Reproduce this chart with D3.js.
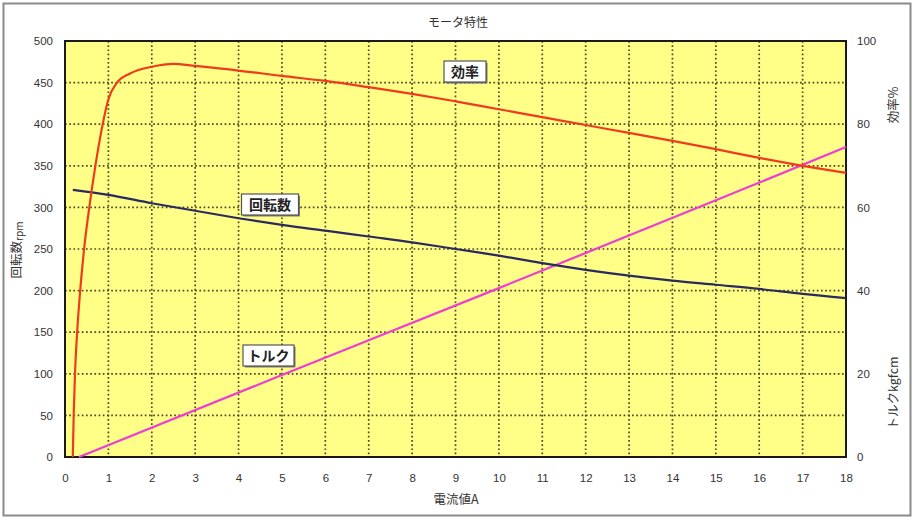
<!DOCTYPE html>
<html>
<head>
<meta charset="utf-8">
<script src="https://cdn.jsdelivr.net/npm/d3@7"></script>
<style>
  html, body { margin: 0; padding: 0; background: #ffffff; }
  svg { display: block; }
  text { font-family: "Liberation Sans", Arial, "Noto Sans CJK JP", sans-serif; }
  .jp { font-family: "Noto Sans CJK JP", "Noto Sans", sans-serif; }
</style>
</head>
<body>
<svg id="chart" width="916" height="521"></svg>
<script>
// ---- data ----
const title = "モータ特性";
const xTitle = "電流値A";
const xTicks = [0,1,2,3,4,5,6,7,8,9,10,11,12,13,14,15,16,17,18];
const leftTicks = [0,50,100,150,200,250,300,350,400,450,500];
const rightTicks = [0,20,40,60,80,100];

// efficiency (%), right axis
const effCurrent = [0.18,0.2,0.23,0.28,0.35,0.44,0.56,0.7,0.85,1.0,1.2,1.5,2,2.5,3,4,5,6,7,8,9,10,11,12,13,14,15,16,17,18];
const effValue   = [0,   10, 20,  30,  40,  50,  60,  70, 79,  86, 90, 92.2,93.8,94.5,94,92.9,91.6,90.4,88.9,87.3,85.5,83.6,81.7,79.8,77.9,76,74,71.9,70,68.3];

// rotation speed (rpm), left axis
const rpmCurrent = [0.18,1,2,3,4,5,6,7,8,9,10,11,12,13,14,15,16,17,18];
const rpmValue   = [321,315,305,296,287,279,272,265,258,250,242,233,225,218,212,207,202,196,191];

// torque (kgfcm), right axis
const torqueCurrent = [0.32,5,10,15,18];
const torqueValue   = [0,19.7,40.6,61.7,74.5];

// ---- layout ----
const svg = d3.select("#chart");
const L = 65, R = 846, T = 41, B = 457;

const x = d3.scaleLinear().domain([0,18]).range([L,R]);
const yL = d3.scaleLinear().domain([0,500]).range([B,T]);
const yR = d3.scaleLinear().domain([0,100]).range([B,T]);

// outer frame
svg.append("rect").attr("x",3.5).attr("y",3.5).attr("width",907).attr("height",512)
  .attr("fill","#fff").attr("stroke","#8a8a8a").attr("stroke-width",2);

// plot background
svg.append("rect").attr("x",L).attr("y",T).attr("width",R-L).attr("height",B-T)
  .attr("fill","#ffff88");

// grid
const gridColor = "#4a4a22";
svg.append("g").selectAll("line").data(xTicks.slice(1,-1)).join("line")
  .attr("x1",d=>x(d)).attr("x2",d=>x(d)).attr("y1",T).attr("y2",B)
  .attr("stroke",gridColor).attr("stroke-width",1.7).attr("stroke-dasharray","1.7,2.5");
svg.append("g").selectAll("line").data(leftTicks.slice(1,-1)).join("line")
  .attr("y1",d=>yL(d)).attr("y2",d=>yL(d)).attr("x1",L).attr("x2",R)
  .attr("stroke",gridColor).attr("stroke-width",1.7).attr("stroke-dasharray","1.7,2.5");

// plot border
svg.append("rect").attr("x",L).attr("y",T).attr("width",R-L).attr("height",B-T)
  .attr("fill","none").attr("stroke","#1a1a1a").attr("stroke-width",2);

// axes (labels only)
const axFont = g => {
  g.select(".domain").remove();
  g.selectAll(".tick line").remove();
  g.selectAll("text").attr("fill","#333").attr("font-size",11.5)
    .attr("font-family","'Liberation Sans', Arial, sans-serif");
};
svg.append("g").attr("transform",`translate(0,${B})`)
  .call(d3.axisBottom(x).tickValues(xTicks).tickFormat(d3.format("d")).tickSize(0).tickPadding(17))
  .call(axFont);
svg.append("g").attr("transform",`translate(${L},0)`)
  .call(d3.axisLeft(yL).tickValues(leftTicks).tickFormat(d3.format("d")).tickSize(0).tickPadding(12))
  .call(axFont);
svg.append("g").attr("transform",`translate(${R},0)`)
  .call(d3.axisRight(yR).tickValues(rightTicks).tickFormat(d3.format("d")).tickSize(0).tickPadding(11))
  .call(axFont);

// lines
const lineFrom = (xs, ys, yScale) => d3.line()
  .x((d,i)=>x(xs[i])).y((d,i)=>yScale(ys[i])).curve(d3.curveMonotoneX)(xs);

svg.append("path").attr("d",lineFrom(torqueCurrent,torqueValue,yR))
  .attr("fill","none").attr("stroke","#f03cd2").attr("stroke-width",2.2);
svg.append("path").attr("d",lineFrom(rpmCurrent,rpmValue,yL))
  .attr("fill","none").attr("stroke","#2a2a5e").attr("stroke-width",2.2);
svg.append("path").attr("d",lineFrom(effCurrent,effValue,yR))
  .attr("fill","none").attr("stroke","#f03a1e").attr("stroke-width",2.2);

// title
svg.append("text").attr("class","jp").attr("x",458).attr("y",27).attr("text-anchor","middle")
  .attr("font-size",12).attr("fill","#333").text(title);
// x title
svg.append("text").attr("class","jp").attr("x",456).attr("y",504).attr("text-anchor","middle")
  .attr("font-size",12.5).attr("fill","#333").text(xTitle);

// left y title
const lt = svg.append("text").attr("class","jp")
  .attr("transform","translate(21,250) rotate(-90)").attr("text-anchor","middle").attr("fill","#333");
lt.append("tspan").attr("font-size",12.5).text("回転数");
lt.append("tspan").attr("font-size",10).attr("dy",2).text("rpm");

// right y titles
svg.append("text").attr("class","jp")
  .attr("transform","translate(898,105) rotate(-90)").attr("text-anchor","middle")
  .attr("font-size",12.5).attr("fill","#333").text("効率%");
svg.append("text").attr("class","jp")
  .attr("transform","translate(898,393) rotate(-90)").attr("text-anchor","middle")
  .attr("font-size",12.5).attr("fill","#333").text("トルクkgfcm");

// series labels in boxes
const seriesLabels = [
  {text:"効率", cx:465, cy:71, w:42},
  {text:"回転数", cx:270, cy:204, w:57},
  {text:"トルク", cx:268.5, cy:355, w:51}
];
seriesLabels.forEach(s => {
  const g = svg.append("g");
  g.append("rect").attr("x",s.cx-s.w/2+1.5).attr("y",s.cy-10+1.5).attr("width",s.w).attr("height",21)
    .attr("fill","#777").attr("rx",1);
  g.append("rect").attr("x",s.cx-s.w/2).attr("y",s.cy-10).attr("width",s.w).attr("height",21)
    .attr("fill","#fff").attr("stroke","#555").attr("stroke-width",1.2);
  g.append("text").attr("class","jp").attr("x",s.cx).attr("y",s.cy+5.5).attr("text-anchor","middle")
    .attr("font-size",14).attr("font-weight","bold").attr("fill","#222").text(s.text);
});
</script>
</body>
</html>
